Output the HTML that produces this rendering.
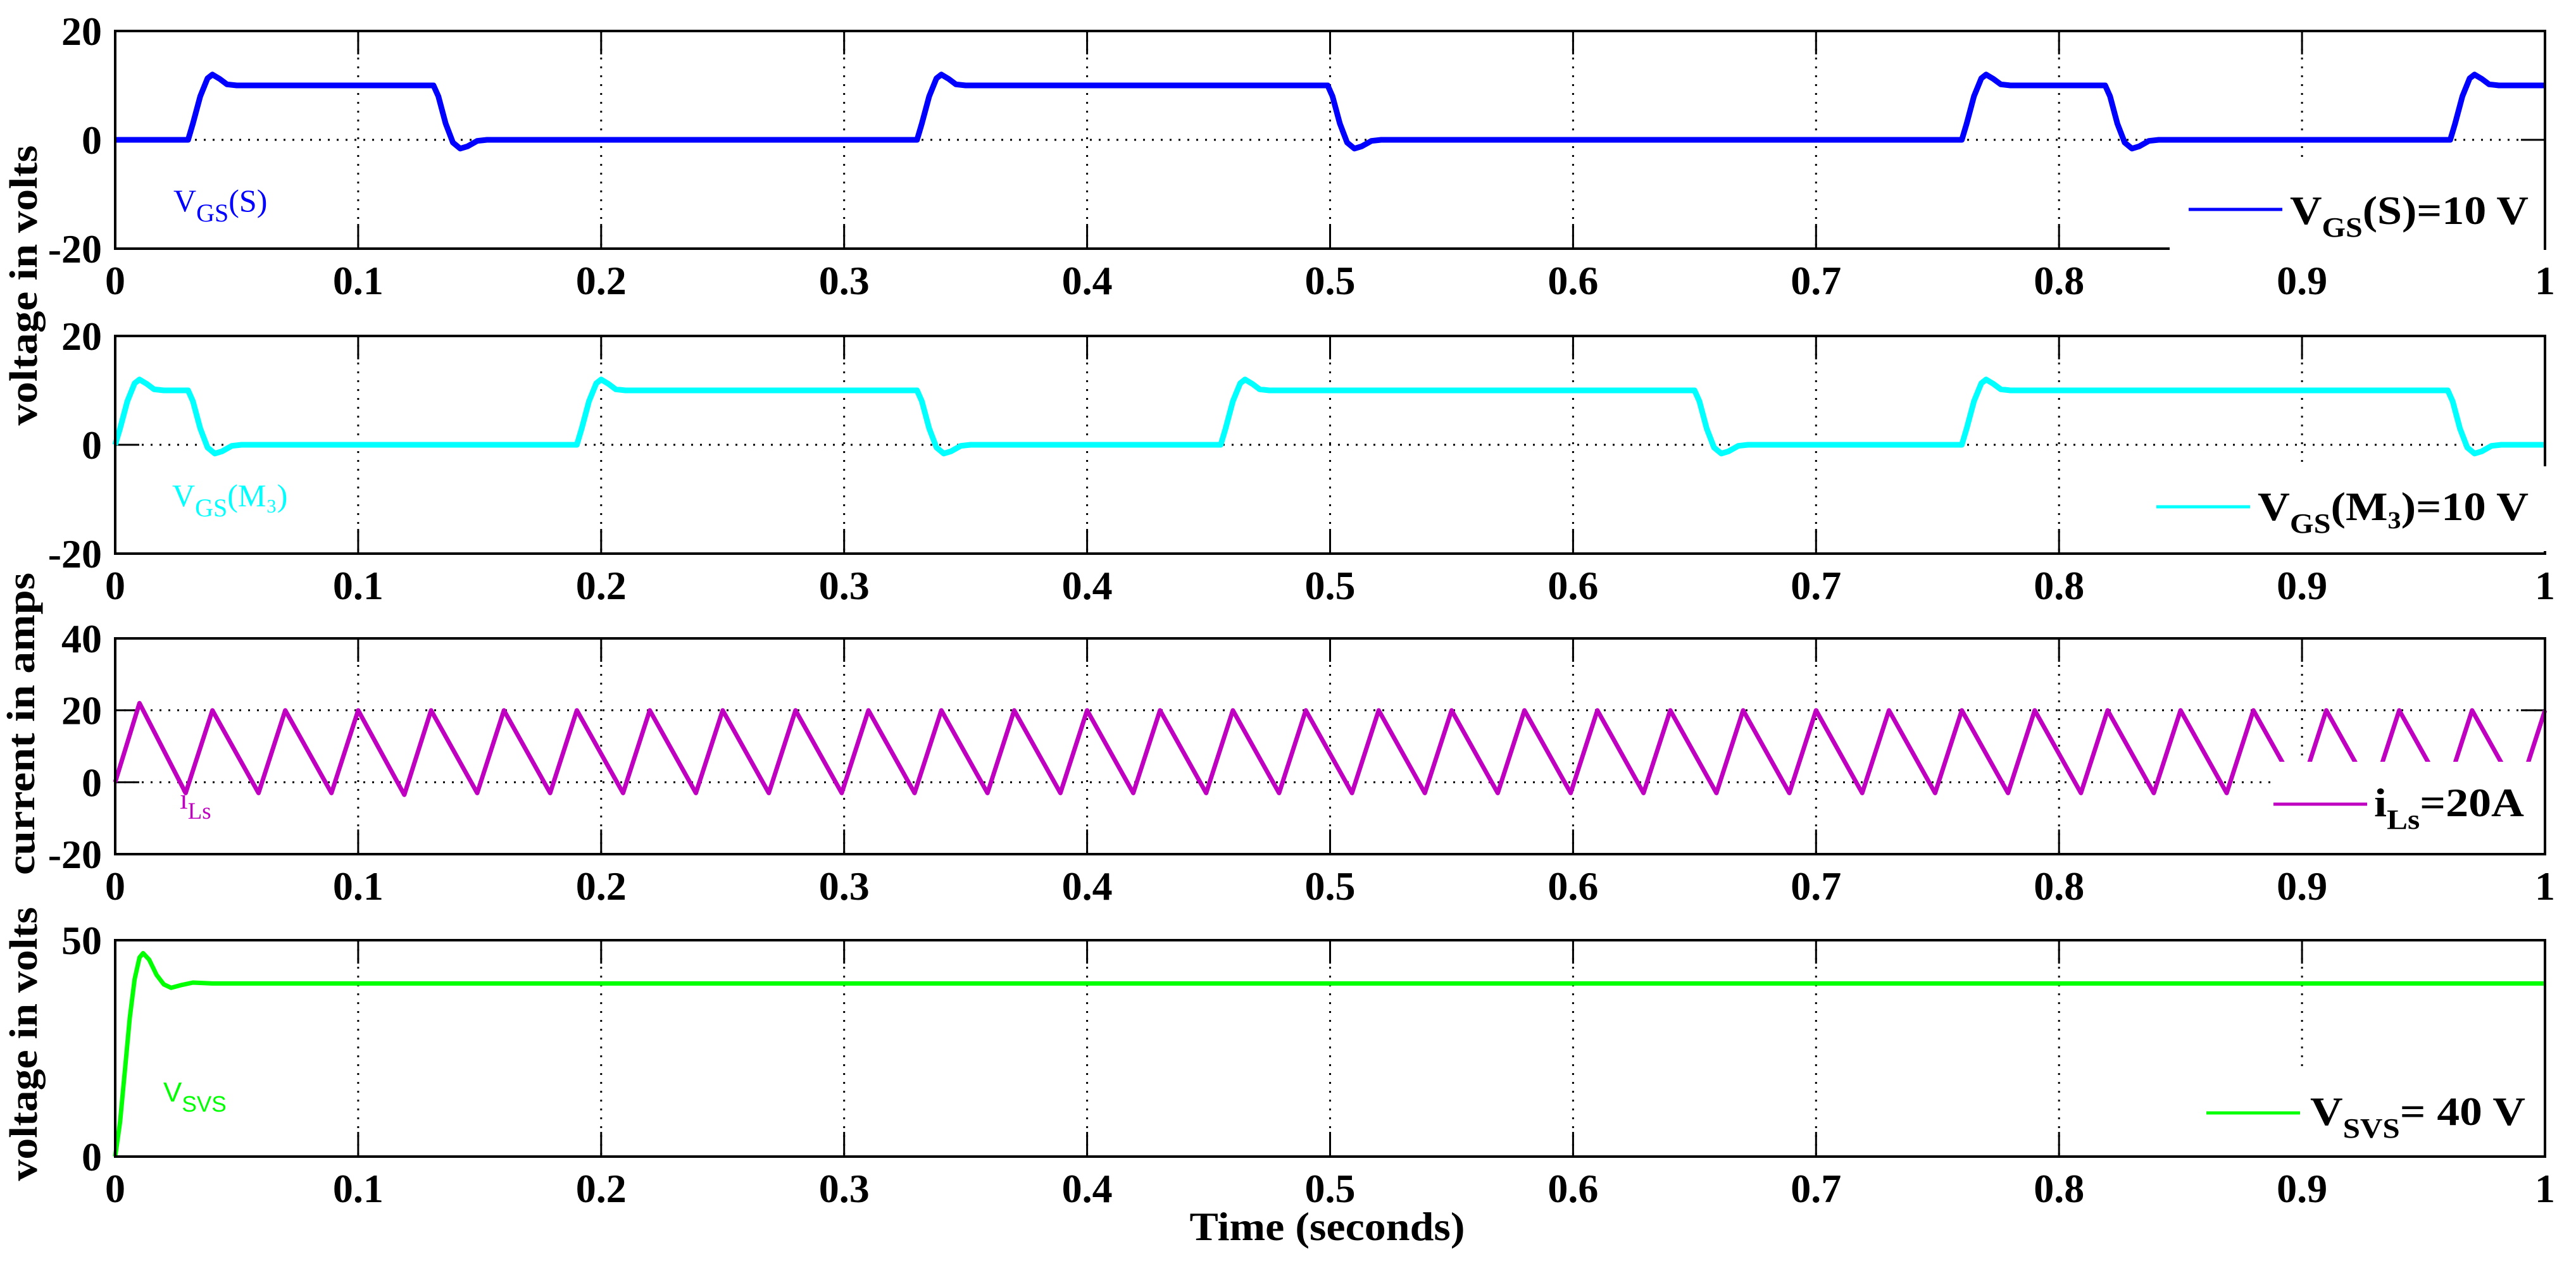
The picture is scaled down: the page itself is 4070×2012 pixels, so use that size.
<!DOCTYPE html>
<html><head><meta charset="utf-8"><style>
html,body{margin:0;padding:0;background:#fff;}
svg{display:block;}
</style></head><body>
<svg id="chart" width="4070" height="2012" viewBox="0 0 4070 2012" xmlns="http://www.w3.org/2000/svg"></svg>
<script>
// ---- data ----
const xTicks = [0,0.1,0.2,0.3,0.4,0.5,0.6,0.7,0.8,0.9,1];
const xTickLabels = ["0","0.1","0.2","0.3","0.4","0.5","0.6","0.7","0.8","0.9","1"];
// gate S edges (s)
const sOnTimes = [0.030,0.330,0.760,0.961];
const sOffTimes = [0.131,0.499,0.819];
// gate M3 edges (s)
const mOnTimes = [0.000,0.190,0.455,0.760];
const mOffTimes = [0.030,0.330,0.650,0.960];
// edge response shape (dt after edge, value) for gate drive
const riseDt = [0,0.002,0.005,0.008,0.010,0.013,0.016,0.020];
const riseVal = [0,3,8,11.3,12,11.2,10.2,10];
const fallDt = [0,0.002,0.005,0.008,0.011,0.014,0.018,0.022];
const fallVal = [10,8,3,-0.5,-1.6,-1.2,-0.2,0];
// inductor current peaks/troughs
const iPeakT = [0.010,0.040,0.070,0.100,0.130,0.160,0.190,0.220,0.250,0.280,0.310,0.340,0.370,0.400,0.430,0.460,0.490,0.520,0.550,0.580,0.610,0.640,0.670,0.700,0.730,0.760,0.790,0.820,0.850,0.880,0.910,0.940,0.970,1.000];
const iPeakV = [22,20,20,20,20,20,20,20,20,20,20,20,20,20,20,20,20,20,20,20,20,20,20,20,20,20,20,20,20,20,20,20,20,20];
const iTroughT = [0.029,0.059,0.089,0.119,0.149,0.179,0.209,0.239,0.269,0.299,0.329,0.359,0.389,0.419,0.449,0.479,0.509,0.539,0.569,0.599,0.629,0.659,0.689,0.719,0.749,0.779,0.809,0.839,0.869,0.899,0.929,0.959,0.989];
const iTroughV = [-3,-3,-3,-3.5,-3,-3,-3,-3,-3,-3,-3,-3,-3,-3,-3,-3,-3,-3,-3,-3,-3,-3,-3,-3,-3,-3,-3,-3,-3,-3,-3,-3,-3];
// SVS voltage
const vT = [0,0.002,0.004,0.006,0.008,0.010,0.0115,0.014,0.017,0.020,0.023,0.027,0.032,0.040,1.0];
const vV = [0,8,20,32,41,46,47,45.5,42,39.8,39,39.6,40.2,40,40];

const NS='http://www.w3.org/2000/svg';
const svg=document.getElementById('chart');
const X0=182, X1=4021;
const panels=[
 {top:49,bot:393,min:-20,max:20,ticks:[20,0,-20],labels:["20","0","-20"],hgrid:[0]},
 {top:531,bot:875,min:-20,max:20,ticks:[20,0,-20],labels:["20","0","-20"],hgrid:[0]},
 {top:1009,bot:1350,min:-20,max:40,ticks:[40,20,0,-20],labels:["40","20","0","-20"],hgrid:[20,0]},
 {top:1486,bot:1828,min:0,max:50,ticks:[50,0],labels:["50","0"],hgrid:[]}
];
function xs(t){return X0+(X1-X0)*t;}
function ys(p,v){return p.bot-(v-p.min)/(p.max-p.min)*(p.bot-p.top);}
function el(tag,attrs,parent){const e=document.createElementNS(NS,tag);for(const k in attrs)e.setAttribute(k,attrs[k]);(parent||svg).appendChild(e);return e;}

function gatePoints(onT,offT){
  const ev=[];onT.forEach(t=>ev.push([t,1]));offT.forEach(t=>ev.push([t,0]));ev.sort((a,b)=>a[0]-b[0]);
  const pts=[];
  let level=0;
  pts.push([0,0]);
  ev.forEach(e=>{
    const dts=e[1]?riseDt:fallDt, vals=e[1]?riseVal:fallVal;
    for(let i=0;i<dts.length;i++){const t=e[0]+dts[i];if(t<=1)pts.push([t,vals[i]]);}
    level=e[1]?10:0;
  });
  pts.push([1,level]);
  return pts;
}

panels.forEach((p,pi)=>{
  const g=el('g',{});
  
  
  xTicks.forEach((t,i)=>{
    if(i===0||i===xTicks.length-1)return;
    const gl=el('line',{x1:xs(t),x2:xs(t),y1:p.top,y2:p.bot,stroke:'#000','stroke-width':3,'stroke-dasharray':'3,11'},g);
    
    
    const t1=el('line',{x1:xs(t),x2:xs(t),y1:p.top,y2:p.top+37,stroke:'#000','stroke-width':3},g);
    
    
    const t2=el('line',{x1:xs(t),x2:xs(t),y1:p.bot-39,y2:p.bot,stroke:'#000','stroke-width':3},g);
    
    
  });
  p.hgrid.forEach(v=>{
    const hl=el('line',{x1:X0,x2:X1,y1:ys(p,v),y2:ys(p,v),stroke:'#000','stroke-width':3,'stroke-dasharray':'3,11'},g);
    
    
    el('line',{x1:X0,x2:X0+38,y1:ys(p,v),y2:ys(p,v),stroke:'#000','stroke-width':3},g);
    el('line',{x1:X1-38,x2:X1,y1:ys(p,v),y2:ys(p,v),stroke:'#000','stroke-width':3},g);
  });
  p.ticks.forEach((v,i)=>{
    const tx=el('text',{x:161,y:ys(p,v)+22,'text-anchor':'end','font-family':'"Liberation Serif",serif','font-weight':'bold','font-size':64},g);
    tx.textContent=p.labels[i];
    
    
  });
  xTicks.forEach((t,i)=>{
    const tx=el('text',{x:xs(t),y:p.bot+72,'text-anchor':'middle','font-family':'"Liberation Serif",serif','font-weight':'bold','font-size':64},g);
    tx.textContent=xTickLabels[i];
    
    
  });
  p.g=g;
});

function drawSeries(p,pts,color,w,name){
  const d=pts.map((q,i)=>(i?'L':'M')+xs(q[0]).toFixed(1)+' '+ys(p,q[1]).toFixed(1)).join(' ');
  const path=el('path',{d:d,fill:'none',stroke:color,'stroke-width':w,'stroke-linejoin':'round'},p.g);
  
  
}
drawSeries(panels[0],gatePoints(sOnTimes,sOffTimes),'#0000ff',9,'vgs-s-line');
const mp=gatePoints(mOnTimes,mOffTimes);mp.shift();
drawSeries(panels[1],mp,'#00ffff',9,'vgs-m3-line');
const ip=[[0,0]];
for(let i=0;i<iPeakT.length;i++){ip.push([iPeakT[i],iPeakV[i]]);if(i<iTroughT.length)ip.push([iTroughT[i],iTroughV[i]]);}
drawSeries(panels[2],ip,'#c000c0',7,'ils-line');
drawSeries(panels[3],vT.map((t,i)=>[t,vV[i]]),'#00ff00',7,'vsvs-line');

const legends=[
 {box:[3428,255,600,150],lx1:3458,lx2:3606,ly:331,color:'#0000ff',tx:3618,ty:354,main:'V',sub:'GS',rest:'(S)=10 V',tl:377,name:'legend-vgs-s'},
 {box:[3390,737,640,136],lx1:3407,lx2:3555,ly:801,color:'#00ffff',tx:3567,ty:822,main:'V',sub:'GS',rest:'(M\u2083)=10 V',tl:428,name:'legend-vgs-m3'},
 {box:[3590,1204,440,144],lx1:3592,lx2:3740,ly:1271,color:'#c000c0',tx:3751,ty:1290,main:'i',sub:'Ls',rest:'=20A',tl:237,name:'legend-ils'},
 {box:[3460,1685,570,141],lx1:3486,lx2:3634,ly:1759,color:'#00ff00',tx:3650,ty:1778,main:'V',sub:'SVS',rest:'= 40 V',tl:340,name:'legend-vsvs'}
];
legends.forEach(L=>{
  const g=el('g',{});
  
  
  el('rect',{x:L.box[0],y:L.box[1],width:L.box[2],height:L.box[3],fill:'#fff'},g);
  el('line',{x1:L.lx1,x2:L.lx2,y1:L.ly,y2:L.ly,stroke:L.color,'stroke-width':5},g);
  const t=el('text',{x:L.tx,y:L.ty,'font-family':'"Liberation Serif",serif','font-weight':'bold','font-size':64,textLength:L.tl,lengthAdjust:'spacingAndGlyphs'},g);
  const a=el('tspan',{},t);a.textContent=L.main;
  const b=el('tspan',{dy:20,'font-size':44},t);b.textContent=L.sub;
  const c=el('tspan',{dy:-20},t);c.textContent=L.rest;
});

panels.forEach((p,pi)=>{
  const r=el('rect',{x:X0,y:p.top,width:X1-X0,height:p.bot-p.top,fill:'none',stroke:'#000','stroke-width':4});
  
  
});
el('rect',{x:3428,y:389,width:591,height:8,fill:'#fff'});
el('line',{x1:X1,x2:X1,y1:49,y2:393,stroke:'#000','stroke-width':4});
el('rect',{x:X1-4,y:737,width:10,height:134,fill:'#fff'});

function inLabel(x,y,color,main,sub,rest,fam,name,size){
  const t=el('text',{x:x,y:y,fill:color,'font-family':fam,'font-size':size});
  
  
  const a=el('tspan',{},t);a.textContent=main;
  const b=el('tspan',{dy:16,'font-size':size*0.8},t);b.textContent=sub;
  if(rest){const c=el('tspan',{dy:-16},t);c.textContent=rest;}
}
inLabel(274,334,'#0000ff','V','GS','(S)','"Liberation Serif",serif','label-vgs-s',50);
inLabel(272,800,'#00ffff','V','GS','(M\u2083)','"Liberation Serif",serif','label-vgs-m3',50);
inLabel(284,1278,'#c000c0','i','Ls','','"Liberation Serif",serif','label-ils',46);
inLabel(258,1741,'#00ff00','V','SVS','','"Liberation Sans",sans-serif','label-vsvs',44);

function ytitle(cx,cy,txt,len,name){
  const t=el('text',{x:0,y:0,transform:'translate('+cx+','+cy+') rotate(-90)','text-anchor':'middle','font-family':'"Liberation Serif",serif','font-weight':'bold','font-size':62,textLength:len,lengthAdjust:'spacingAndGlyphs'});
  t.textContent=txt;
  
  
}
ytitle(58,451,'voltage in volts',443,'y-axis-title-gate');
ytitle(54,1144,'current in amps',478,'y-axis-title-current');
ytitle(58,1650,'voltage in volts',433,'y-axis-title-svs');
const xt=el('text',{x:2097,y:1960,'text-anchor':'middle','font-family':'"Liberation Serif",serif','font-weight':'bold','font-size':64,textLength:435,lengthAdjust:'spacingAndGlyphs'});
xt.textContent='Time (seconds)';


</script>
</body></html>
